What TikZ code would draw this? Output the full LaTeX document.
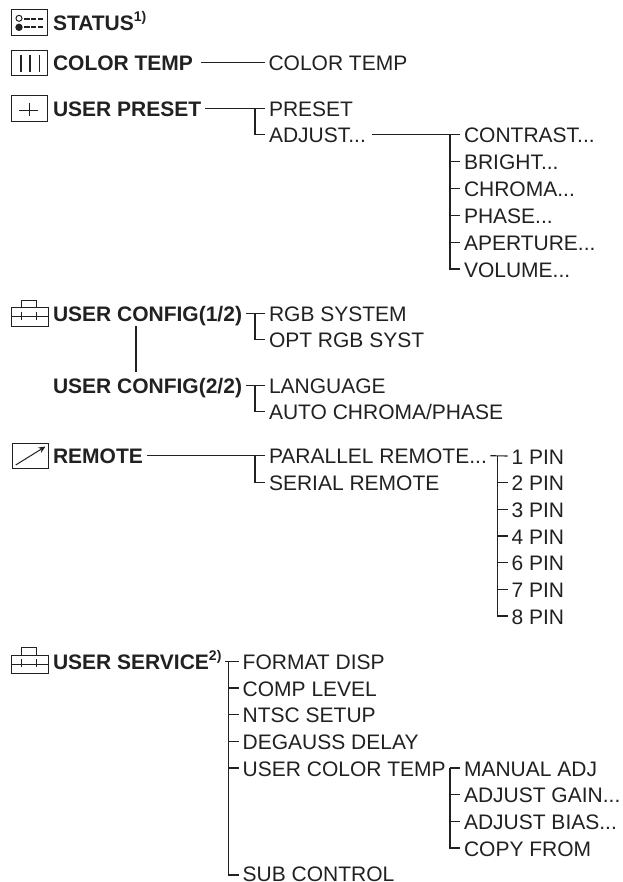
\documentclass[tikz,border=0pt]{standalone}
\usepackage{fontspec}
\setmainfont{Liberation Sans}
\usetikzlibrary{arrows.meta}
\definecolor{ink}{gray}{0.13}
\tikzset{
  hd/.style={font=\fontsize{21}{24}\selectfont\bfseries,text=ink,anchor=base west,inner sep=0pt,outer sep=0pt},
  it/.style={font=\fontsize{21}{24}\selectfont,text=ink,anchor=base west,inner sep=0pt,outer sep=0pt},
  ln/.style={draw=ink,line width=1.1pt},
  ic/.style={draw=ink,line width=1pt,fill=none}
}
\newcommand{\supr}[1]{\raisebox{9pt}{\fontsize{14}{14}\selectfont #1}}
\newcommand{\lnk}[3]{\draw[ln] ([shift={(#2pt,8pt)}]#1.base east) -- ([shift={(-4pt,8pt)}]#3.base west);}
\newcommand{\brn}[2]{\draw[ln] ([shift={(-14pt,8pt)}]#1.base west) |- ([shift={(-4pt,8pt)}]#2.base west);}
\newcommand{\tck}[1]{\draw[ln] ([shift={(-14pt,8pt)}]#1.base west) -- ([shift={(-4pt,8pt)}]#1.base west);}
\begin{document}
\begin{tikzpicture}[x=1pt,y=-1pt]
\useasboundingbox (0,0) rectangle (622,882);
\fill[white] (0,0) rectangle (622,882);
% Headings
\node[hd] (status) at (53,31) {STATUS\supr{1)}};
\node[hd] (ctemp) at (53,70.7) {COLOR TEMP};
\node[hd] (upreset) at (53,116.7) {USER PRESET};
\node[hd] (uc1) at (53,321.7) {USER CONFIG(1/2)};
\node[hd] (uc2) at (53,393.3) {USER CONFIG(2/2)};
\node[hd] (remote) at (53,463.7) {REMOTE};
\node[hd] (uservice) at (53,669.3) {USER SERVICE\supr{2)}};
% Items
\node[it] (ct) at (268.5,70.7) {COLOR TEMP};
\node[it] (preset) at (269,116.7) {PRESET};
\node[it] (adjust) at (269,142.7) {ADJUST...};
\node[it] (c1) at (464,142.7) {CONTRAST...};
\node[it] (c2) at (464,169.7) {BRIGHT...};
\node[it] (c3) at (464,196.5) {CHROMA...};
\node[it] (c4) at (464,223.3) {PHASE...};
\node[it] (c5) at (464,250.2) {APERTURE...};
\node[it] (c6) at (464,277) {VOLUME...};
\node[it] (rgb) at (269,321.7) {RGB SYSTEM};
\node[it] (opt) at (269,347.7) {OPT RGB SYST};
\node[it] (lang) at (269,393.3) {LANGUAGE};
\node[it] (auto) at (269,419.5) {AUTO CHROMA/PHASE};
\node[it] (par) at (269,463.7) {PARALLEL REMOTE...};
\node[it] (ser) at (269,490.3) {SERIAL REMOTE};
\node[it] (p1) at (511.5,464) {1 PIN};
\node[it] (p2) at (511.5,490.7) {2 PIN};
\node[it] (p3) at (511.5,517.3) {3 PIN};
\node[it] (p4) at (511.5,544) {4 PIN};
\node[it] (p5) at (511.5,570.7) {6 PIN};
\node[it] (p6) at (511.5,597.3) {7 PIN};
\node[it] (p7) at (511.5,624) {8 PIN};
\node[it] (s1) at (242.7,669.3) {FORMAT DISP};
\node[it] (s2) at (242.7,696) {COMP LEVEL};
\node[it] (s3) at (242.7,722.7) {NTSC SETUP};
\node[it] (s4) at (242.7,749.3) {DEGAUSS DELAY};
\node[it] (s5) at (242.7,776) {USER COLOR TEMP};
\node[it] (s6) at (242.7,881) {SUB CONTROL};
\node[it] (m1) at (464,776) {MANUAL ADJ};
\node[it] (m2) at (464,802.7) {ADJUST GAIN...};
\node[it] (m3) at (464,829.3) {ADJUST BIAS...};
\node[it] (m4) at (464,856) {COPY FROM};
% Connectors
\lnk{ctemp}{8}{ct}
\lnk{upreset}{4}{preset}
\brn{preset}{adjust}
\lnk{adjust}{6}{c1}
\brn{c1}{c6}
\foreach \n in {c2,c3,c4,c5} {\tck{\n}}
\lnk{uc1}{4}{rgb}
\brn{rgb}{opt}
\draw[ln] (136,326) -- (136,371.7);
\lnk{uc2}{4}{lang}
\brn{lang}{auto}
\lnk{remote}{4}{par}
\brn{par}{ser}
\lnk{par}{3.5}{p1}
\brn{p1}{p7}
\foreach \n in {p2,p3,p4,p5,p6} {\tck{\n}}
\lnk{uservice}{4}{s1}
\draw[ln] ([shift={(-14pt,8pt)}]s1.base west) |- ([shift={(-4pt,6pt)}]s6.base west);
\foreach \n in {s2,s3,s4,s5} {\tck{\n}}
\lnk{s5}{4}{m1}
\brn{m1}{m4}
\foreach \n in {m2,m3} {\tck{\n}}
% Icons
\draw[ic] (11.3,10) rectangle (47.7,35.5);
\draw[ic] (19,18.3) circle (3);
\fill[ink] (19,27.3) circle (3.7);
\draw[ink,line width=2pt,dash pattern=on 5.2pt off 1.6pt] (24.3,19) -- (44.3,19) (24.3,27.3) -- (44.3,27.3);
\draw[ic] (11.3,50.7) rectangle (47.7,76);
\draw[ink,line width=1.6pt] (20.7,55) -- (20.7,72) (30,55) -- (30,72) (39.3,55) -- (39.3,72);
\draw[ic] (11.3,96) rectangle (47.7,121.7);
\draw[ink,line width=0.9pt] (19.3,110) -- (38.3,110) (29.3,102.7) -- (29.3,116);
\draw[ic] (11.3,307.7) rectangle (48,326);
\draw[ic] (21.7,307.7) -- (21.7,300) -- (36.7,300) -- (36.7,307.7);
\draw[ic] (11.3,316.7) -- (48,316.7) (21.7,311.7) -- (21.7,319.5) (36.7,311.7) -- (36.7,319.5);
\draw[ic] (12,443.3) rectangle (48.5,468.3);
\draw[ink,line width=1pt,-{Stealth[length=7pt,width=6pt]}] (15.7,465) -- (45.5,446.5);
\draw[ic] (11.3,655.3) rectangle (48,673.6);
\draw[ic] (21.7,655.3) -- (21.7,647.6) -- (36.7,647.6) -- (36.7,655.3);
\draw[ic] (11.3,664.3) -- (48,664.3) (21.7,659.3) -- (21.7,667.1) (36.7,659.3) -- (36.7,667.1);
\end{tikzpicture}
\end{document}
